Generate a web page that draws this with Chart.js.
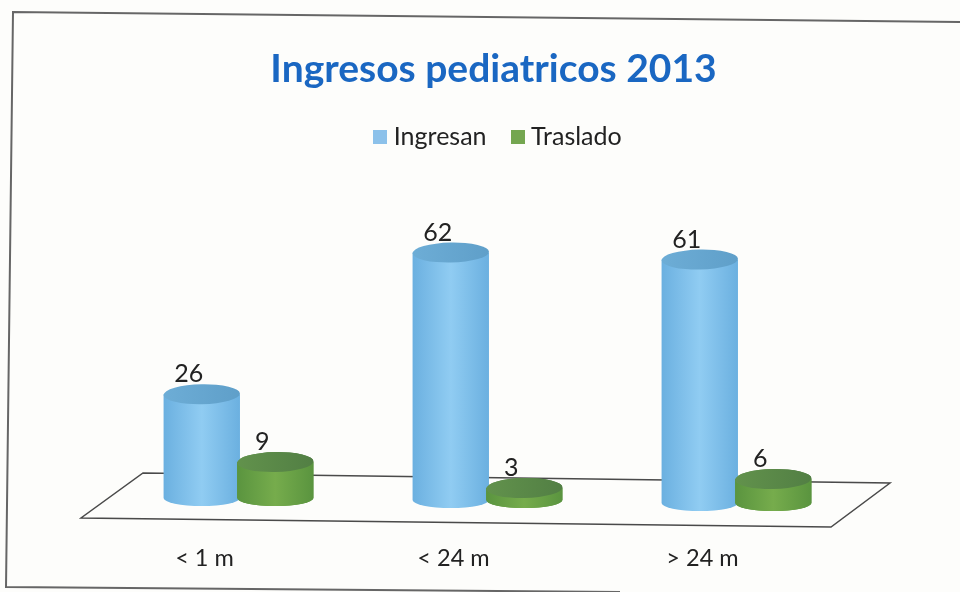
<!DOCTYPE html>
<html><head><meta charset="utf-8">
<style>html,body{margin:0;padding:0;background:#fdfdfb}#wrap{width:960px;height:592px}</style>
<script src="https://cdn.jsdelivr.net/npm/chart.js@4"></script></head>
<body><div id="wrap"><canvas id="c" width="960" height="592"></canvas></div>
<script>
const categories = ['< 1 m', '< 24 m', '> 24 m'];
const ingresan = [26, 62, 61];
const traslado = [9, 3, 6];
const seriesNames = ['Ingresan', 'Traslado'];

const FONT = 'Lato, Carlito, sans-serif';
const TILT = [0, 2, 5];   // the scanned 3D floor slopes down to the right
const RY = 10;
const PALETTE = {
  '#8cc1ea': {edge:'#6bb0e0', mid:'#90ccf2', topA:'#6dadd6', topB:'#5f9fc9'},
  '#74a650': {edge:'#5a943f', mid:'#76ac4c', topA:'#62924c', topB:'#527f44'}
};

Chart.BarElement.prototype.draw = function (ctx) {
  const p = PALETTE[this.options.backgroundColor];
  const dy = this.$tilt || 0;
  const w = this.width * 1.04, rx = w / 2;
  const x = this.x, top = this.y + dy, base = this.base + dy;
  const g = ctx.createLinearGradient(x - rx, 0, x + rx, 0);
  g.addColorStop(0, p.edge); g.addColorStop(0.5, p.mid); g.addColorStop(1, p.edge);
  ctx.save();
  ctx.fillStyle = g;
  ctx.beginPath();
  ctx.moveTo(x - rx, top);
  ctx.lineTo(x - rx, base);
  ctx.ellipse(x, base, rx, RY - 2, 0, Math.PI, 0, true);
  ctx.lineTo(x + rx, top);
  ctx.closePath();
  ctx.fill();
  const t = ctx.createLinearGradient(x - rx, 0, x + rx, 0);
  t.addColorStop(0, p.topA); t.addColorStop(1, p.topB);
  ctx.fillStyle = t;
  ctx.beginPath();
  ctx.ellipse(x, top, rx, RY, -0.02, 0, Math.PI * 2);
  ctx.fill();
  ctx.restore();
};

const floorAndFrame = {
  id: 'floorAndFrame',
  afterLayout(chart) {
    chart.legend.left += 7;
    chart.legend.right += 7;
  },
  beforeDatasetsDraw(chart) {
    chart.data.datasets.forEach((ds, i) => {
      chart.getDatasetMeta(i).data.forEach((el, j) => { el.$tilt = TILT[j]; });
    });
    const c = chart.ctx;
    c.save();
    c.strokeStyle = '#666'; c.lineWidth = 2;
    c.beginPath();
    c.moveTo(960, 22); c.lineTo(13, 12); c.lineTo(6, 587); c.lineTo(620, 592);
    c.stroke();
    c.strokeStyle = '#4a4a4a'; c.lineWidth = 1.5;
    c.beginPath();
    c.moveTo(143, 473); c.lineTo(890, 483); c.lineTo(831, 527); c.lineTo(81, 518); c.closePath();
    c.stroke();
    c.restore();
  },
  afterDatasetsDraw(chart) {
    const c = chart.ctx;
    chart.getDatasetMeta(1).data.forEach(el => el.draw(c));
    c.save();
    c.fillStyle = '#222';
    c.font = '25px ' + FONT;
    c.textAlign = 'center'; c.textBaseline = 'middle';
    chart.data.datasets.forEach((ds, i) => {
      chart.getDatasetMeta(i).data.forEach((el, j) => {
        c.fillText(String(ds.data[j]), el.x - 13, el.y + TILT[j] - 20);
      });
    });
    c.restore();
  }
};

function swatch(color) {
  const s = document.createElement('canvas');
  s.width = 14; s.height = 14;
  const x = s.getContext('2d');
  x.fillStyle = color; x.fillRect(0, 0, 14, 14);
  return s;
}

new Chart(document.getElementById('c'), {
  type: 'bar',
  data: {
    labels: categories,
    datasets: [
      {label: seriesNames[0], data: ingresan, backgroundColor: '#8cc1ea', clip: false},
      {label: seriesNames[1], data: traslado, backgroundColor: '#74a650', clip: false}
    ]
  },
  plugins: [floorAndFrame],
  options: {
    responsive: false,
    animation: false,
    layout: {padding: {left: 114, right: 87, bottom: 22, top: 0}},
    datasets: {bar: {categoryPercentage: 0.59, barPercentage: 1}},
    plugins: {
      tooltip: {enabled: false},
      title: {
        display: true,
        text: 'Ingresos pediatricos 2013',
        color: '#1a67c2',
        font: {family: FONT, size: 39, weight: 'bold'},
        padding: {top: 46, bottom: 2}
      },
      legend: {
        display: true,
        position: 'top',
        labels: {
          color: '#222',
          font: {family: FONT, size: 25},
          usePointStyle: true,
          pointStyleWidth: 2,
          padding: 30,
          generateLabels(chart) {
            return Chart.defaults.plugins.legend.labels.generateLabels(chart)
              .map(l => Object.assign(l, {pointStyle: swatch(l.fillStyle)}));
          }
        }
      }
    },
    scales: {
      x: {
        grid: {display: false, drawTicks: false},
        border: {display: false},
        afterFit(s) { s.height = 72; },
        ticks: {color: '#222', font: {family: FONT, size: 23.5}, labelOffset: -34, padding: 46, maxRotation: 0}
      },
      y: {
        position: 'right',
        min: 0, max: 84.75,
        afterFit(s) { s.width = 12; },
        grid: {display: false},
        border: {display: false},
        ticks: {display: false}
      }
    }
  }
});
</script></body></html>
